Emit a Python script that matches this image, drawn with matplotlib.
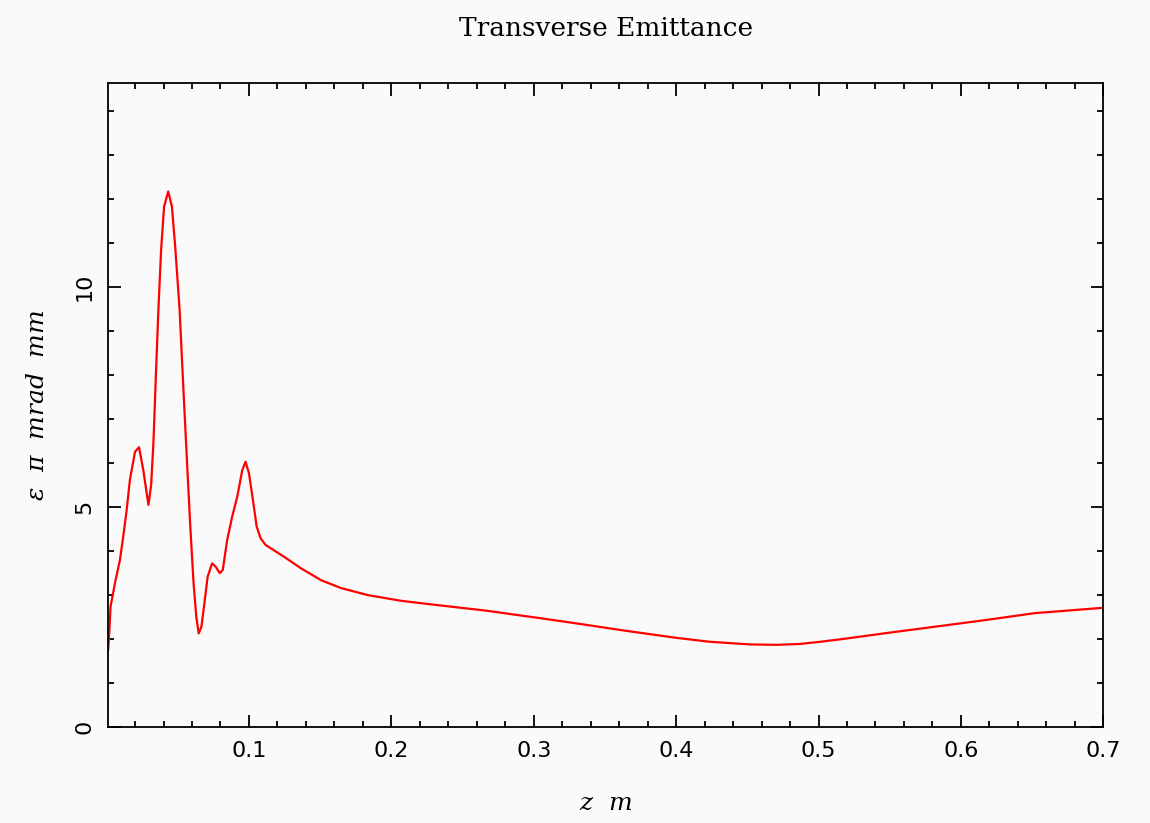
import matplotlib
matplotlib.use("Agg")
import matplotlib.pyplot as plt
from matplotlib.ticker import MultipleLocator

# ── Data ───────────────────────────────────────────────────────────────────────
z = [0.0011, 0.0020, 0.0028, 0.0059, 0.0094, 0.0117, 0.0141, 0.0164, 0.0200,
     0.0228, 0.0258, 0.0294, 0.0313, 0.0329, 0.0346, 0.0364, 0.0383, 0.0404,
     0.0433, 0.0459, 0.0482, 0.0513, 0.0541, 0.0569, 0.0588, 0.0611, 0.0630,
     0.0647, 0.0666, 0.0687, 0.0710, 0.0741, 0.0765, 0.0795, 0.0816, 0.0847,
     0.0882, 0.0918, 0.0953, 0.0976, 0.1000, 0.1031, 0.1054, 0.1082, 0.1117,
     0.1247, 0.1365, 0.1506, 0.1647, 0.1835, 0.2070, 0.2305, 0.2658, 0.3059,
     0.3294, 0.3646, 0.4000, 0.4235, 0.4518, 0.4705, 0.4870, 0.5012, 0.5164,
     0.5459, 0.5812, 0.6165, 0.6518, 0.6871, 0.7030]
emittance = [1.74, 2.20, 2.73, 3.26, 3.79, 4.32, 4.92, 5.61, 6.25,
             6.35, 5.83, 5.04, 5.49, 6.44, 7.95, 9.47, 10.83, 11.82,
             12.16, 11.82, 10.91, 9.47, 7.58, 5.76, 4.55, 3.26, 2.50,
             2.12, 2.27, 2.80, 3.41, 3.71, 3.64, 3.49, 3.56, 4.24,
             4.77, 5.23, 5.83, 6.02, 5.76, 5.08, 4.55, 4.28, 4.13,
             3.86, 3.60, 3.33, 3.15, 2.99, 2.86, 2.77, 2.64, 2.46,
             2.35, 2.18, 2.02, 1.93, 1.87, 1.86, 1.88, 1.93, 1.99,
             2.12, 2.27, 2.42, 2.58, 2.67, 2.71]

x_ticks = [0.1, 0.2, 0.3, 0.4, 0.5, 0.6, 0.7]
x_ticklabels = ["0.1", "0.2", "0.3", "0.4", "0.5", "0.6", "0.7"]
y_ticks = [0, 5, 10]
y_ticklabels = ["0", "5", "10"]

plt.rcParams["mathtext.fontset"] = "dejavuserif"

# ── Figure ─────────────────────────────────────────────────────────────────────
fig = plt.figure(figsize=(11.5, 8.23), dpi=100, facecolor="#fafafa")
ax = fig.add_axes([0.0939, 0.117, 0.8655, 0.7818], facecolor="#fafafa")

ax.plot(z, emittance, color="red", lw=1.6)

ax.set_xlim(0.001, 0.7)
ax.set_ylim(0, 14.62)
ax.set_xticks(x_ticks)
ax.set_xticklabels(x_ticklabels)
ax.set_yticks(y_ticks)
ax.set_yticklabels(y_ticklabels, rotation=90, va="center")
ax.xaxis.set_minor_locator(MultipleLocator(0.02))
ax.yaxis.set_minor_locator(MultipleLocator(1))

ax.tick_params(which="both", direction="in", top=True, right=True,
               width=1.3, colors="black", labelsize=16, pad=10)
ax.tick_params(which="major", length=9)
ax.tick_params(which="minor", length=4.5)
for s in ax.spines.values():
    s.set_linewidth(1.3)

ax.set_title("Transverse Emittance", fontsize=19, family="DejaVu Serif", pad=34)
ax.set_xlabel(r"$z\ \ m$", fontsize=18, labelpad=22)
ax.set_ylabel(r"$\epsilon\ \ \pi\ \ mrad\ \ mm$", fontsize=18, labelpad=18)

plt.savefig("out.png", dpi=100, facecolor=fig.get_facecolor())
plt.close()
